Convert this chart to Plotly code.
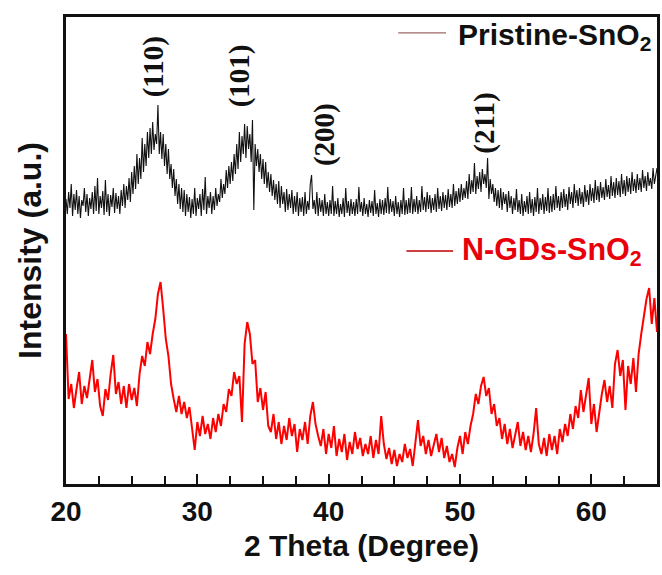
import plotly.graph_objects as go

# 2-theta sampling grids (degrees)
TT_START = 20.0
STEP_PRISTINE = 0.1
STEP_NGDS = 0.2

# Pristine-SnO2 intensity (a.u.), one value per 0.1 deg from 20.0 to 65.0
pristine = [
    285, 270, 292, 276, 300, 268, 290, 274, 294, 270,   # 20
    288, 266, 284, 278, 296, 272, 290, 268, 286, 275,   # 21
    292, 270, 298, 273, 306, 270, 288, 276, 293, 269,   # 22
    304, 272, 290, 268, 289, 277, 296, 271, 291, 275,   # 23
    288, 270, 294, 278, 300, 276, 298, 284, 306, 282,   # 24
    312, 290, 318, 295, 330, 300, 326, 305, 346, 312,   # 25
    340, 318, 352, 326, 356, 330, 362, 334, 350, 340,   # 26
    379, 330, 352, 325, 350, 318, 340, 310, 335, 305,   # 27
    320, 296, 315, 288, 305, 280, 300, 275, 296, 272,   # 28
    294, 268, 290, 272, 287, 266, 285, 270, 296, 268,   # 29
    286, 275, 290, 268, 295, 274, 307, 270, 288, 276,   # 30
    292, 270, 288, 274, 296, 278, 290, 282, 305, 286,   # 31
    300, 290, 314, 296, 318, 300, 322, 303, 330, 310,   # 32
    340, 315, 352, 322, 348, 330, 360, 326, 358, 335,   # 33
    350, 322, 364, 274, 340, 318, 335, 312, 330, 305,   # 34
    325, 300, 322, 296, 312, 292, 310, 288, 304, 284,   # 35
    300, 280, 303, 276, 298, 280, 292, 272, 295, 274,   # 36
    290, 276, 294, 270, 288, 272, 292, 268, 286, 272,   # 37
    287, 268, 292, 270, 283, 274, 300, 309, 275, 284,   # 38
    270, 292, 268, 286, 272, 284, 268, 290, 270, 282,   # 39
    268, 284, 270, 298, 268, 283, 270, 286, 267, 280,   # 40
    270, 286, 267, 296, 271, 283, 268, 285, 270, 282,   # 41
    268, 285, 270, 297, 272, 282, 268, 286, 270, 280,   # 42
    267, 284, 271, 283, 268, 294, 270, 281, 267, 285,   # 43
    270, 284, 269, 286, 271, 297, 270, 285, 272, 283,   # 44
    268, 288, 270, 282, 267, 284, 270, 296, 269, 284,   # 45
    270, 286, 271, 297, 270, 285, 272, 288, 270, 284,   # 46
    272, 298, 274, 287, 272, 292, 275, 289, 271, 286,   # 47
    274, 290, 272, 296, 275, 288, 273, 292, 276, 289,   # 48
    274, 295, 277, 290, 276, 300, 278, 293, 280, 296,   # 49
    282, 300, 284, 296, 286, 303, 285, 310, 290, 304,   # 50
    292, 321, 290, 308, 295, 312, 292, 315, 300, 310,   # 51
    296, 326, 285, 305, 290, 300, 282, 296, 278, 294,   # 52
    276, 296, 274, 292, 280, 290, 272, 293, 276, 288,   # 53
    270, 286, 274, 295, 272, 284, 270, 290, 268, 283,   # 54
    272, 288, 270, 292, 271, 285, 268, 287, 272, 296,   # 55
    270, 286, 274, 290, 270, 287, 273, 296, 271, 288,   # 56
    272, 290, 274, 298, 276, 288, 273, 292, 276, 295,   # 57
    277, 290, 274, 297, 280, 292, 276, 300, 281, 294,   # 58
    278, 296, 280, 292, 277, 299, 282, 294, 279, 300,   # 59
    283, 296, 281, 304, 284, 298, 282, 302, 286, 297,   # 60
    284, 305, 287, 299, 285, 308, 288, 302, 286, 306,   # 61
    289, 303, 287, 310, 290, 304, 288, 308, 292, 306,   # 62
    290, 312, 293, 305, 291, 310, 294, 306, 292, 314,   # 63
    296, 308, 293, 312, 298, 306, 295, 316, 300, 310,   # 64
    316,                                                # 65.0
]

# N-GDs-SnO2 intensity (a.u.), one value per 0.2 deg from 20.0 to 65.0
ngds = [
    150, 85, 100, 76, 95, 112, 80, 98, 86, 103,         # 20.0-21.8
    124, 92, 105, 78, 68, 95, 84, 110, 129, 90,         # 22.0-23.8
    102, 80, 98, 76, 100, 84, 96, 78, 110, 128,         # 24.0-25.8
    118, 142, 130, 150, 165, 190, 202, 175, 145, 128,   # 26.0-27.8
    100, 85, 72, 88, 70, 82, 66, 77, 58, 34,            # 28.0-29.8
    62, 48, 68, 50, 60, 45, 66, 52, 70, 58,             # 30.0-31.8
    80, 72, 95, 88, 112, 100, 108, 62, 140, 162,        # 32.0-33.8
    150, 120, 124, 82, 96, 74, 92, 58, 52, 70,          # 34.0-35.8
    45, 62, 40, 58, 44, 66, 48, 60, 32, 55,             # 36.0-37.8
    44, 62, 40, 68, 82, 60, 48, 38, 55, 30,             # 38.0-39.8
    50, 36, 58, 28, 45, 32, 50, 24, 42, 30,             # 40.0-41.8
    52, 35, 46, 28, 40, 30, 48, 26, 44, 30,             # 42.0-43.8
    68, 40, 25, 36, 20, 34, 18, 30, 22, 40,             # 44.0-45.8
    26, 35, 18, 42, 64, 38, 48, 30, 44, 28,             # 46.0-47.8
    40, 50, 32, 46, 26, 38, 22, 30, 17, 36,             # 48.0-49.8
    48, 30, 52, 40, 58, 70, 90, 80, 98, 107,            # 50.0-51.8
    88, 96, 70, 80, 58, 66, 45, 60, 40, 55,             # 52.0-53.8
    36, 50, 62, 38, 52, 34, 48, 32, 50, 76,             # 54.0-55.8
    40, 30, 46, 28, 50, 34, 48, 30, 55, 42,             # 56.0-57.8
    60, 48, 70, 55, 78, 66, 94, 72, 88, 106,            # 58.0-59.8
    60, 80, 52, 74, 90, 104, 82, 98, 76, 120,           # 60.0-61.8
    134, 108, 124, 74, 118, 100, 126, 92, 130, 150,     # 62.0-63.8
    168, 185, 196, 160, 186, 152,                       # 64.0-65.0
]

tt_pristine = [round(TT_START + STEP_PRISTINE * i, 1) for i in range(len(pristine))]
tt_ngds = [round(TT_START + STEP_NGDS * i, 1) for i in range(len(ngds))]

peak_labels = ["(110)", "(101)", "(200)", "(211)"]
peak_pos = [26.65, 33.2, 39.65, 51.8]
peak_label_y = [417, 408, 349, 361]

x_tick_vals = [20, 30, 40, 50, 60]
x_tick_text = ["20", "30", "40", "50", "60"]

FONT = "Liberation Sans, Arial, sans-serif"

fig = go.Figure()
fig.add_trace(go.Scatter(x=tt_pristine, y=pristine, mode="lines",
                         line=dict(color="#111111", width=1.1), name="Pristine-SnO2",
                         showlegend=False))
fig.add_trace(go.Scatter(x=tt_ngds, y=ngds, mode="lines",
                         line=dict(color="#ff0000", width=2), name="N-GDs-SnO2",
                         showlegend=False))

annotations = []
for lab, px, py in zip(peak_labels, peak_pos, peak_label_y):
    annotations.append(dict(x=px, y=py, xref="x", yref="y", text="<b>" + lab + "</b>",
                            textangle=-90, showarrow=False,
                            font=dict(family="Liberation Serif, Times New Roman, serif",
                                      size=29, color="#111111")))

# legend entries
annotations.append(dict(x=0.660, y=0.959, xref="paper", yref="paper", xanchor="left",
                        yanchor="middle", showarrow=False,
                        text="<b>Pristine-SnO<sub>2</sub></b>",
                        font=dict(family=FONT, size=30, color="#111111")))
annotations.append(dict(x=0.667, y=0.497, xref="paper", yref="paper", xanchor="left",
                        yanchor="middle", showarrow=False,
                        text="<b>N-GDs-SnO<sub>2</sub></b>",
                        font=dict(family=FONT, size=30.5, color="#e8000b")))

shapes = [
    dict(type="line", xref="paper", yref="paper", x0=0.562, x1=0.643, y0=0.966, y1=0.966,
         line=dict(color="#a06a6a", width=1.2)),
    dict(type="line", xref="paper", yref="paper", x0=0.576, x1=0.655, y0=0.499, y1=0.499,
         line=dict(color="#c00000", width=1.5)),
]

fig.update_layout(
    width=662, height=575,
    margin=dict(l=66, r=2, t=17, b=91),
    plot_bgcolor="white", paper_bgcolor="white",
    annotations=annotations, shapes=shapes,
    showlegend=False,
    font=dict(family=FONT, color="#111111"),
)
fig.update_xaxes(
    range=[20, 65], showgrid=False, zeroline=False,
    showline=True, linecolor="#111111", linewidth=3, mirror=True,
    tickmode="array", tickvals=x_tick_vals,
    ticktext=["<b>" + t + "</b>" for t in x_tick_text],
    ticks="inside", ticklen=10, tickwidth=2, tickcolor="#111111",
    minor=dict(dtick=2.5, ticks="inside", ticklen=8, tickwidth=2, tickcolor="#111111"),
    tickfont=dict(family=FONT, size=28, color="#111111"),
    ticklabelstandoff=0,
    title=dict(text="<b>2 Theta (Degree)</b>", font=dict(family=FONT, size=30, color="#111111"),
               standoff=10),
)
fig.update_yaxes(
    range=[0, 467], showgrid=False, zeroline=False,
    showline=True, linecolor="#111111", linewidth=3, mirror=True,
    showticklabels=False, ticks="",
    title=dict(text="<b>Intensity (a.u.)</b>", font=dict(family=FONT, size=32, color="#111111"),
               standoff=12),
)

fig.write_html("out.html")
